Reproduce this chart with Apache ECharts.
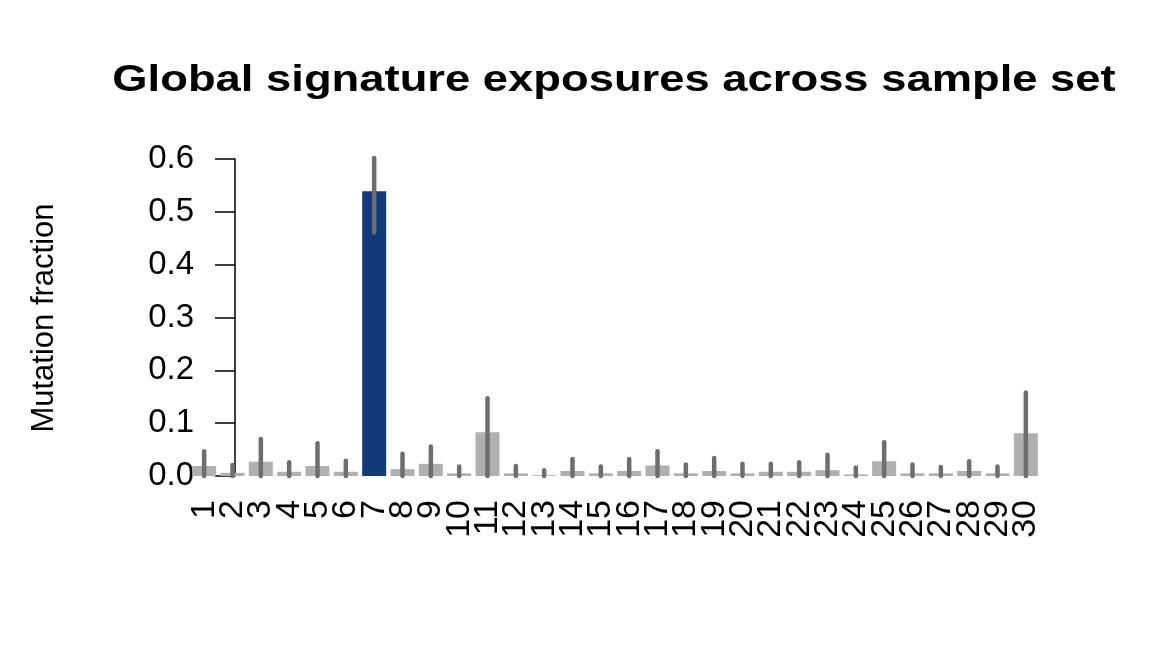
<!DOCTYPE html>
<html>
<head>
<meta charset="utf-8">
<script src="https://cdn.jsdelivr.net/npm/echarts@6/dist/echarts.min.js"></script>
<style>html,body{margin:0;padding:0;background:#fff}#chart{width:1152px;height:672px}</style>
</head>
<body>
<div id="chart"></div>
<script>
const categories = ['1','2','3','4','5','6','7','8','9','10','11','12','13','14','15','16','17','18','19','20','21','22','23','24','25','26','27','28','29','30'];
const exposure = [0.019,0.006,0.027,0.008,0.019,0.008,0.539,0.013,0.023,0.005,0.083,0.005,0.0015,0.0095,0.005,0.0095,0.020,0.005,0.0095,0.005,0.008,0.008,0.011,0.003,0.028,0.005,0.005,0.0095,0.005,0.081];
const errLow = [0,0,0,0,0,0,0.461,0,0,0,0,0,0,0,0,0,0,0,0,0,0,0,0,0,0,0,0,0,0,0];
const errHigh = [0.047,0.021,0.070,0.026,0.062,0.029,0.602,0.042,0.056,0.018,0.147,0.019,0.011,0.032,0.018,0.032,0.047,0.022,0.034,0.023,0.023,0.026,0.040,0.016,0.064,0.022,0.017,0.028,0.018,0.158];
const highlightIndex = 6;
const yTicks = [0, 0.1, 0.2, 0.3, 0.4, 0.5, 0.6];

const chart = echarts.init(document.getElementById('chart'), null, {renderer: 'canvas'});
const FONT = 'Liberation Sans, Arial, Helvetica, sans-serif';

const barData = exposure.map((v, i) => i === highlightIndex
  ? {value: v, itemStyle: {color: '#123a79'}}
  : {value: v});
const errData = categories.map((c, i) => [i, errLow[i], errHigh[i]]);

chart.setOption({
  animation: false,
  backgroundColor: '#ffffff',
  graphic: [
    {
      type: 'text', x: 614, y: 81, scaleX: 1.26,
      style: {text: 'Global signature exposures across sample set', font: 'bold 36px ' + FONT,
        fill: '#000', align: 'center', verticalAlign: 'middle', textAlign: 'center', textVerticalAlign: 'middle'}
    },
    {
      type: 'text', x: 44, y: 318, rotation: Math.PI / 2,
      style: {text: 'Mutation fraction', font: '31px ' + FONT,
        fill: '#000', align: 'center', verticalAlign: 'middle', textAlign: 'center', textVerticalAlign: 'middle'}
    }
  ],
  grid: {left: 190, right: 112, top: 159, bottom: 196, containLabel: false, outerBoundsMode: 'none'},
  xAxis: {
    type: 'category',
    data: categories,
    axisLine: {show: false},
    axisTick: {show: false},
    axisLabel: {interval: 0, rotate: 90, fontSize: 34, fontFamily: FONT, color: '#000', margin: 24}
  },
  yAxis: {
    type: 'value',
    min: yTicks[0], max: yTicks[yTicks.length - 1], interval: 0.1,
    offset: -45,
    splitLine: {show: false},
    axisLine: {show: true, lineStyle: {color: '#000', width: 1.5}},
    axisTick: {show: true, length: 20, lineStyle: {color: '#000', width: 1.5}},
    axisLabel: {fontSize: 33, fontFamily: FONT, color: '#000', margin: 41,
      formatter: v => v.toFixed(1)}
  },
  series: [
    {
      type: 'bar',
      data: barData,
      barWidth: 24,
      itemStyle: {color: '#b0b0b0'},
      silent: true
    },
    {
      type: 'custom',
      data: errData,
      silent: true,
      z: 5,
      renderItem: function (params, api) {
        const lo = api.coord([api.value(0), api.value(1)]);
        const hi = api.coord([api.value(0), api.value(2)]);
        return {
          type: 'line',
          shape: {x1: lo[0], y1: lo[1], x2: hi[0], y2: hi[1]},
          style: {stroke: '#6e6e6e', lineWidth: 4.5, lineCap: 'round'}
        };
      }
    }
  ]
});
</script>
</body>
</html>
